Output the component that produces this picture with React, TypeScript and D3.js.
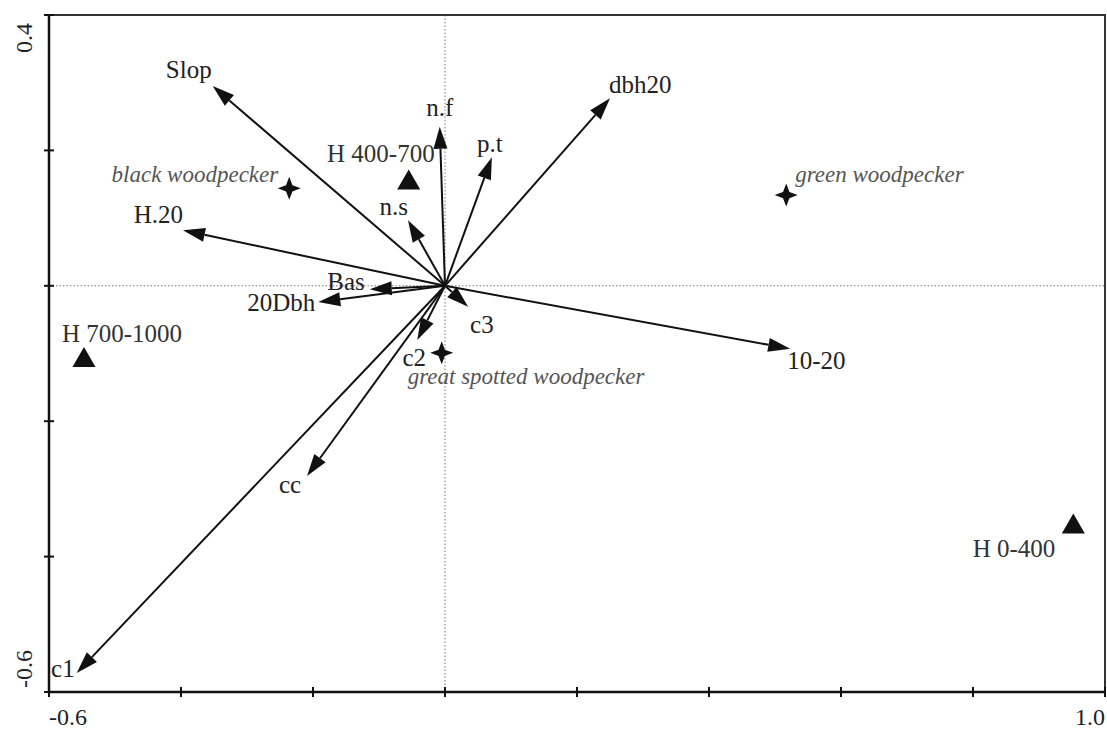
import * as d3 from "d3";

// environmental variables (arrows)
const vectorNames = ["Slop", "H.20", "Bas", "20Dbh", "n.s", "n.f", "p.t", "dbh20", "10-20", "c3", "c2", "cc", "c1"];
const vectorX = [-0.352, -0.397, -0.114, -0.192, -0.056, -0.008, 0.071, 0.25, 0.523, 0.035, -0.042, -0.209, -0.558];
const vectorY = [0.295, 0.082, -0.005, -0.024, 0.097, 0.235, 0.19, 0.277, -0.093, -0.031, -0.08, -0.281, -0.572];

// species (stars)
const speciesNames = ["black woodpecker", "green woodpecker", "great spotted woodpecker"];
const speciesX = [-0.236, 0.517, -0.005];
const speciesY = [0.144, 0.134, -0.099];

// altitude classes (triangles)
const siteNames = ["H 400-700", "H 700-1000", "H 0-400"];
const siteX = [-0.055, -0.547, 0.952];
const siteY = [0.152, -0.11, -0.356];

const xTicks = [-0.6, -0.4, -0.2, 0, 0.2, 0.4, 0.6, 0.8, 1.0];
const yTicks = [-0.6, -0.4, -0.2, 0, 0.2, 0.4];

// label placement [dx, dy, anchor]
const vectorLabelPos: Record<string, [number, number, string]> = {
  "Slop": [-1, -8, "end"],
  "H.20": [0, -7, "end"],
  "Bas": [-5, 1, "end"],
  "20Dbh": [-3, 9, "end"],
  "n.s": [0, -5, "end"],
  "n.f": [0, -11, "middle"],
  "p.t": [-2, -5, "middle"],
  "dbh20": [-1, -5, "start"],
  "10-20": [-3, 20, "start"],
  "c3": [2, 26, "start"],
  "c2": [-3, 26, "middle"],
  "cc": [-17, 17, "middle"],
  "c1": [-2, 4, "end"],
};
const speciesLabelPos: Record<string, [number, number, string]> = {
  "black woodpecker": [-11, -6, "end"],
  "green woodpecker": [9, -13, "start"],
  "great spotted woodpecker": [-34, 31, "start"],
};
const siteLabelPos: Record<string, [number, number, string]> = {
  "H 400-700": [26, -21, "end"],
  "H 700-1000": [-22, -18, "start"],
  "H 0-400": [-18, 30, "end"],
};

const W = 1107;
const H = 731;
const font = "'Liberation Serif', 'Times New Roman', serif";

export default function App() {
  const x = d3.scaleLinear().domain([-0.6, 1.0]).range([49, 1105]);
  const y = d3.scaleLinear().domain([-0.6, 0.4]).range([692, 15]);
  const x0 = x(0);
  const y0 = y(0);

  const headLen = 22;
  const headHalf = 7;

  const arrows = vectorNames.map((name, i) => {
    const tx = x(vectorX[i]);
    const ty = y(vectorY[i]);
    const dx = tx - x0;
    const dy = ty - y0;
    const len = Math.sqrt(dx * dx + dy * dy);
    const ux = dx / len;
    const uy = dy / len;
    const hl = Math.min(headLen, len * 0.7);
    const bx = tx - ux * hl;
    const by = ty - uy * hl;
    const head = `M${tx},${ty} L${bx - uy * headHalf},${by + ux * headHalf} L${bx + uy * headHalf},${by - ux * headHalf} Z`;
    return { name, tx, ty, bx, by, head };
  });

  const star = d3
    .lineRadial<number>()
    .angle((_, i) => (i * Math.PI) / 4)
    .radius((_, i) => (i % 2 === 0 ? 11.5 : 4.5))
    .curve(d3.curveLinearClosed)([0, 1, 2, 3, 4, 5, 6, 7]) as string;

  const triangle = d3.symbol().type(d3.symbolTriangle).size(230)() as string;

  return (
    <svg width={W} height={H} style={{ position: "absolute", left: 0, top: 0, background: "#fff" }} fontFamily={font}>
      <rect x={0} y={0} width={W} height={H} fill="#fff" />

      {/* reference lines through the origin */}
      <line x1={x(-0.6)} x2={x(1.0)} y1={y0} y2={y0} stroke="#777" strokeWidth={1} strokeDasharray="1.5,2" />
      <line x1={x0} x2={x0} y1={y(0.4)} y2={y(-0.6)} stroke="#777" strokeWidth={1} strokeDasharray="1.5,2" />

      {/* frame */}
      <rect x={x(-0.6)} y={y(0.4)} width={x(1.0) - x(-0.6)} height={y(-0.6) - y(0.4)} fill="none" stroke="#333" strokeWidth={2} />
      <line x1={x(-0.6)} x2={x(1.0)} y1={y(-0.6)} y2={y(-0.6)} stroke="#111" strokeWidth={2.5} />
      <line x1={x(-0.6)} x2={x(-0.6)} y1={y(0.4)} y2={y(-0.6)} stroke="#111" strokeWidth={2.5} />

      {xTicks.map((t) => (
        <line key={"xt" + t} x1={x(t)} x2={x(t)} y1={y(-0.6) - 5} y2={y(-0.6) + 5} stroke="#111" strokeWidth={2} />
      ))}
      {yTicks.map((t) => (
        <line key={"yt" + t} x1={x(-0.6) - 5} x2={x(-0.6) + 5} y1={y(t)} y2={y(t)} stroke="#111" strokeWidth={2} />
      ))}

      {/* axis end labels */}
      <text x={x(-0.6)} y={725} fontSize={24} fill="#222" textAnchor="start">-0.6</text>
      <text x={x(1.0)} y={725} fontSize={24} fill="#222" textAnchor="end">1.0</text>
      <text transform={`translate(32,${y(0.4) + 8}) rotate(-90)`} fontSize={24} fill="#222" textAnchor="end">0.4</text>
      <text transform={`translate(32,${y(-0.6) - 4}) rotate(-90)`} fontSize={24} fill="#222" textAnchor="start">-0.6</text>

      {/* environmental vectors */}
      {arrows.map((a) => (
        <g key={a.name}>
          <line x1={x0} y1={y0} x2={a.bx} y2={a.by} stroke="#111" strokeWidth={2} />
          <path d={a.head} fill="#111" />
          <text
            x={a.tx + vectorLabelPos[a.name][0]}
            y={a.ty + vectorLabelPos[a.name][1]}
            textAnchor={vectorLabelPos[a.name][2] as any}
            fontSize={25}
            fill="#222"
          >
            {a.name}
          </text>
        </g>
      ))}

      {/* species */}
      {speciesNames.map((name, i) => (
        <g key={name}>
          <path d={star} transform={`translate(${x(speciesX[i])},${y(speciesY[i])})`} fill="#111" />
          <text
            x={x(speciesX[i]) + speciesLabelPos[name][0]}
            y={y(speciesY[i]) + speciesLabelPos[name][1]}
            textAnchor={speciesLabelPos[name][2] as any}
            fontSize={23}
            fontStyle="italic"
            fill="#555"
          >
            {name}
          </text>
        </g>
      ))}

      {/* altitude classes */}
      {siteNames.map((name, i) => (
        <g key={name}>
          <path d={triangle} transform={`translate(${x(siteX[i])},${y(siteY[i])})`} fill="#111" />
          <text
            x={x(siteX[i]) + siteLabelPos[name][0]}
            y={y(siteY[i]) + siteLabelPos[name][1]}
            textAnchor={siteLabelPos[name][2] as any}
            fontSize={25}
            fill="#333"
          >
            {name}
          </text>
        </g>
      ))}
    </svg>
  );
}
